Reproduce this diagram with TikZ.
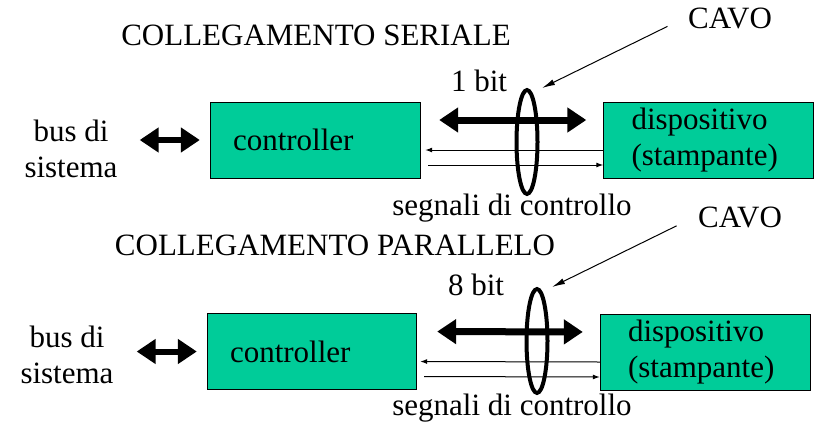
\documentclass[tikz,border=0pt]{standalone}
\usepackage{fontspec}
\setmainfont{Liberation Serif}
\usetikzlibrary{shapes.geometric,arrows.meta}
\definecolor{boxgreen}{RGB}{0,204,153}
\begin{document}
\begin{tikzpicture}[
    x=1pt, y=-1pt,
    font=\fontsize{31}{36}\selectfont,
    box/.style={rectangle, draw, fill=boxgreen, minimum height=76pt, align=left, inner ysep=0pt},
    cable/.style={ellipse, draw, line width=4pt, minimum width=21pt, minimum height=104pt, inner sep=0pt},
    bigarrow/.style={{Triangle[length=19pt,width=24pt]}-{Triangle[length=19pt,width=24pt]}, line width=7pt},
    busarrow/.style={{Triangle[length=19pt,width=24pt]}-{Triangle[length=19pt,width=24pt]}, line width=6pt},
    sig/.style={-{Latex[length=7pt,width=5pt]}, line width=1pt},
    pointer/.style={-{Latex[length=13pt,width=6pt]}, line width=1pt}
]
    \useasboundingbox (0,0) rectangle (816,426);

    % seriale
    \node (title1) at (316,35) {COLLEGAMENTO SERIALE};
    \node[align=center, inner sep=0pt] (bus1) at (71,149) {bus di\\sistema};
    \node[box, inner xsep=23pt, text width=164pt] (ctrl1) at (315,140) {controller};
    \node[box, inner xsep=28pt, text width=154pt] (disp1) at (708.5,140) {dispositivo\\(stampante)};
    \node (bit1) at (479,81) {1 bit};
    \node (sig1) at (512,208) {segnali di controllo};
    \node (cavo1) at (730,18) {CAVO};

    \draw[busarrow, shorten <=22pt, shorten >=10pt] (bus1.east |- ctrl1.west) -- (ctrl1.west);
    \draw[bigarrow, shorten <=19pt, shorten >=17pt] ([yshift=20pt]ctrl1.east) -- ([yshift=20pt]disp1.west);
    \draw[sig, shorten >=5pt] ([yshift=-10pt]disp1.west) -- ([yshift=-10pt]ctrl1.east);
    \draw[sig, shorten <=8pt] ([yshift=-25pt]ctrl1.east) -- ([yshift=-25pt]disp1.west);
    \node[cable] (ell1) at (527,142) {};
    \draw[pointer, shorten <=19pt] (cavo1.west) -- ([xshift=15pt]ell1.north);

    % parallelo
    \node (title2) at (335,245) {COLLEGAMENTO PARALLELO};
    \node[align=center, inner sep=0pt] (bus2) at (67,355) {bus di\\sistema};
    \node[box, inner xsep=23pt, text width=163pt] (ctrl2) at (311.5,351.5) {controller};
    \node[box, inner xsep=28pt, text width=154pt] (disp2) at (705,352) {dispositivo\\(stampante)};
    \node (bit2) at (476,285) {8 bit};
    \node (sig2) at (512,408) {segnali di controllo};
    \node (cavo2) at (740,217) {CAVO};

    \draw[busarrow, shorten <=23pt, shorten >=10pt] (bus2.east |- ctrl2.west) -- (ctrl2.west);
    \draw[bigarrow, shorten <=21pt, shorten >=17pt] ([yshift=20pt]ctrl2.east) -- ([yshift=20pt]disp2.west);
    \draw[sig, shorten >=4pt] ([yshift=-10pt]disp2.west) -- ([yshift=-10pt]ctrl2.east);
    \draw[sig, shorten <=8pt] ([yshift=-25pt]ctrl2.east) -- ([yshift=-25pt]disp2.west);
    \node[cable] (ell2) at (537,341) {};
    \draw[pointer, shorten <=20pt] (cavo2.west) -- ([xshift=15pt]ell2.north);
\end{tikzpicture}
\end{document}
